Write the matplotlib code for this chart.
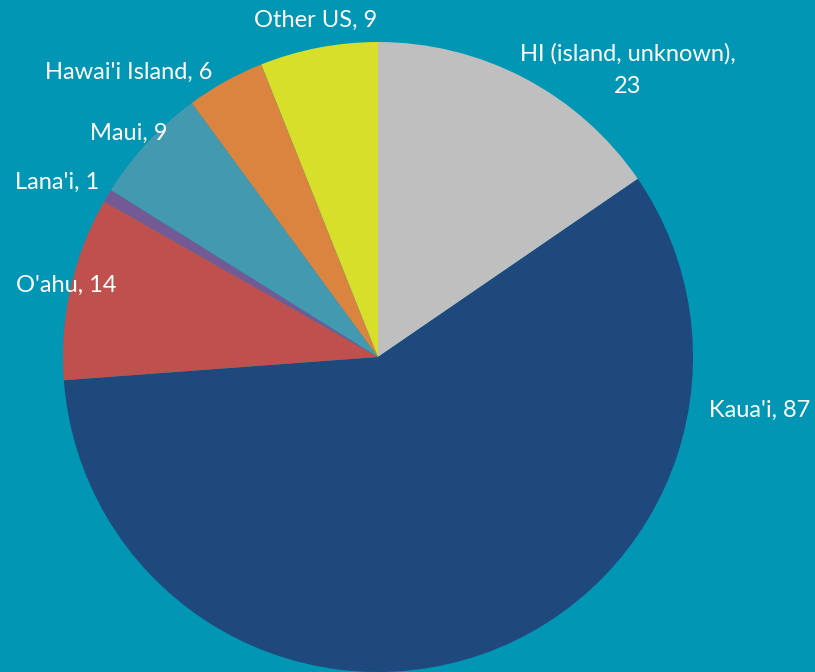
import matplotlib
matplotlib.use('Agg')
import matplotlib.pyplot as plt

labels = ['HI (island, unknown)', "Kaua'i", "O'ahu", "Lana'i", 'Maui', "Hawai'i Island", 'Other US']
values = [23, 87, 14, 1, 9, 6, 9]
colors = ['#BFBFBF', '#1F497D', '#C0504D', '#735A94', '#4399AF', '#DA843F', '#D8DF2B']

# label anchor points in pixel coords (x, y from top)
label_pos = [(628, 70), (760, 410), (66, 285), (57, 182), (129, 133), (129, 72), (316, 20)]

bg = '#0096B4'
plt.rcParams['font.family'] = ['Lato', 'DejaVu Sans']

W, H = 815, 672
fig = plt.figure(figsize=(W / 100, H / 100), dpi=100, facecolor=bg)
ax = fig.add_axes([0, 0, 1, 1])
ax.set_facecolor(bg)

cx, cy, r = 378, H - 357, 315
ax.pie(values, colors=colors, startangle=90, counterclock=False,
       center=(cx, cy), radius=r, frame=True,
       wedgeprops=dict(linewidth=0))
ax.set_xlim(0, W)
ax.set_ylim(0, H)
ax.set_aspect('equal')
ax.axis('off')

for lab, v, (x, y) in zip(labels, values, label_pos):
    txt = f'{lab},\n{v}' if lab.startswith('HI') else f'{lab}, {v}'
    ax.text(x, H - y, txt, ha='center', va='center', color='white',
            fontsize=17, linespacing=1.7)

fig.savefig('out.png', dpi=100, facecolor=bg)
